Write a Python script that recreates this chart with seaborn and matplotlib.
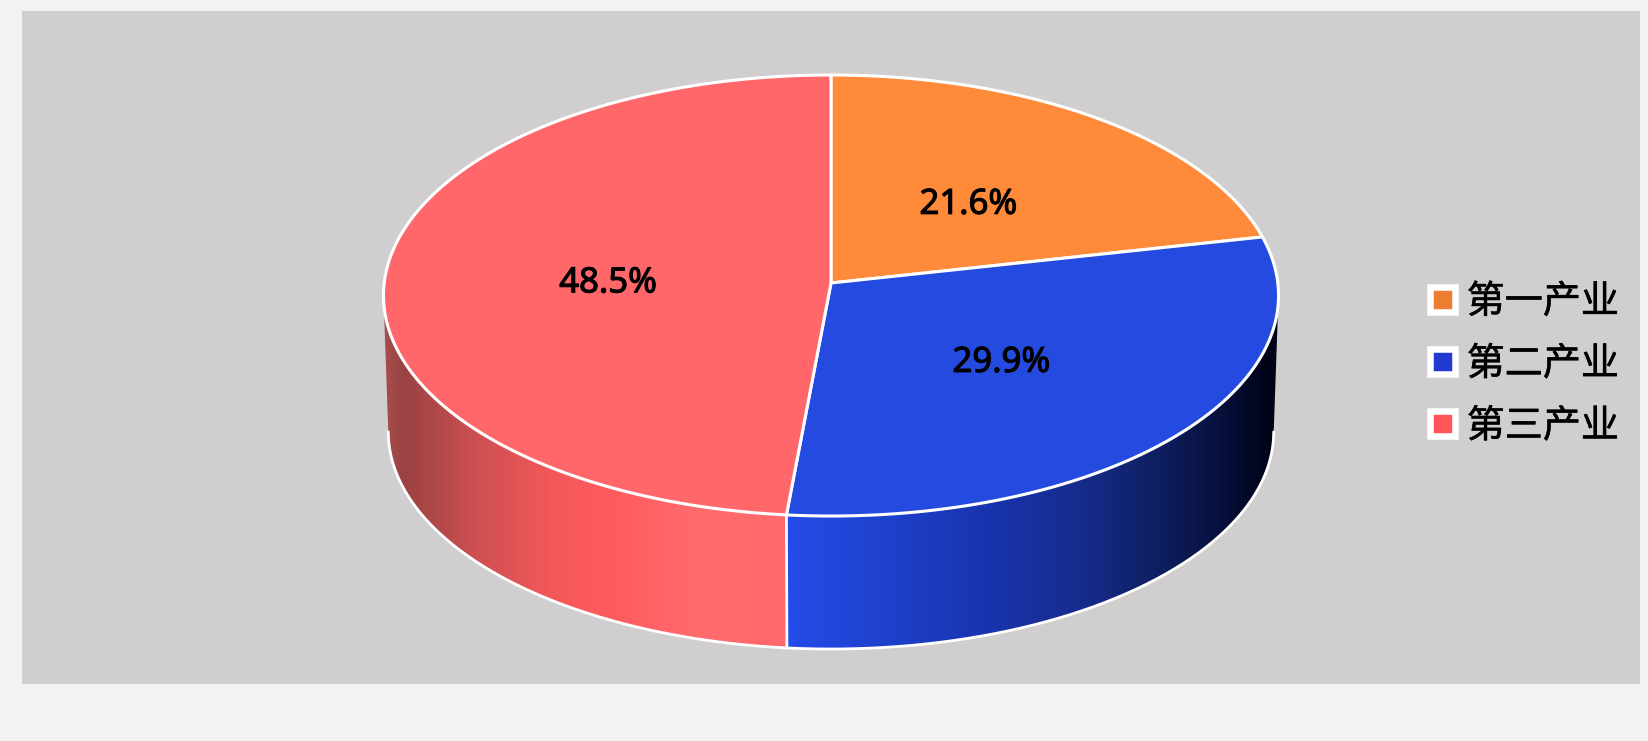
#!/usr/bin/env python3
# -*- coding: utf-8 -*-
"""Perspective 3D pie of industry shares, drawn on a seaborn themed axes."""

import numpy as np
import matplotlib
matplotlib.use('Agg')
import matplotlib.pyplot as plt
import matplotlib.patheffects as pe
import seaborn as sns
from matplotlib.colors import LinearSegmentedColormap
from matplotlib.patches import Patch, Polygon

categories = ['第一产业', '第二产业', '第三产业']
shares = [21.6, 29.9, 48.5]
pie_colors = ['#ff8a3a', '#244ae0', '#ff676a']
legend_colors = ['#ed7d31', '#233ad2', '#ff555a']

# side shading, left to right across the width of each slice
red_side = [(0, '#a84e4e'), (0.05, '#9b4242'), (0.23, '#cd5052'), (0.43, '#f6585a'),
            (0.58, '#ff5c5e'), (0.78, '#ff6b6e'), (1, '#ff696c')]
blue_side = [(0, '#254cea'), (0.19, '#1e42cd'), (0.40, '#1934af'), (0.60, '#162c8c'),
             (0.74, '#0f2064'), (0.87, '#081241'), (0.975, '#000319'), (1, '#000214')]

BG_FIG = '#f2f2f2'
BG_PANEL = '#d0cece'

# pie geometry, in pixels of the panel
CX = 831
TOP_CY, BOT_CY = 283, 419.5
TOP_A, TOP_B = 446.8, 219.8
BOT_A, BOT_B = 442, 216.5
PERSP = 0.0567


def project(t, r, cy, a, b):
    # clockwise angle from twelve o'clock, circle seen in perspective
    u = r * np.sin(t)
    v = r * np.cos(t)
    w = 1 + PERSP * v
    return CX + a * u / w, cy - b * v / w


def side_face(ax, t0, t1, stops):
    t = np.linspace(t0, t1, 200)
    xt, yt = project(t, 1, TOP_CY, TOP_A, TOP_B)
    xb, yb = project(t[::-1], 1, BOT_CY, BOT_A, BOT_B)
    poly = Polygon(np.column_stack([np.r_[xt, xb], np.r_[yt, yb]]),
                   closed=True, fc='none', ec='none', transform=ax.transData)
    ax.add_patch(poly)
    cmap = LinearSegmentedColormap.from_list('side', stops)
    xs = np.r_[xt, xb]
    im = ax.imshow(np.linspace(0, 1, 512).reshape(1, -1), cmap=cmap, aspect='auto',
                   extent=(xs.min(), xs.max(), yb.max(), yt.min()), zorder=1)
    im.set_clip_path(poly)


sns.set_theme(style='white')
plt.rcParams['font.family'] = ['Noto Sans CJK SC', 'DejaVu Sans']

fig = plt.figure(figsize=(16.49, 7.41), dpi=100, facecolor=BG_FIG)
ax = fig.add_axes([22 / 1649, 1 - 684 / 741, (1640 - 22) / 1649, (684 - 11) / 741])
ax.set_facecolor(BG_PANEL)

edges = np.r_[0, np.cumsum(shares)] / sum(shares) * 2 * np.pi
seam = edges[2]
front = np.arccos(-PERSP)

# sides first, the top face covers their upper edge
side_face(ax, front, seam, blue_side)
side_face(ax, seam, 2 * np.pi - front, red_side)

# white rim along the bottom and the seam between the two sides
t = np.linspace(front, 2 * np.pi - front, 300)
xb, yb = project(t, 1, BOT_CY, BOT_A, BOT_B)
ax.plot(xb, yb, color='white', lw=2, zorder=2)
xs, ys = project(seam, 1, TOP_CY, TOP_A, TOP_B)
xe, ye = project(seam, 1, BOT_CY, BOT_A, BOT_B)
ax.plot([xs, xe], [ys, ye], color='white', lw=2, zorder=2)

# top face
for i, color in enumerate(pie_colors):
    t = np.linspace(edges[i], edges[i + 1], 200)
    x, y = project(t, 1, TOP_CY, TOP_A, TOP_B)
    ax.fill(np.r_[CX, x], np.r_[TOP_CY, y], fc=color, ec='white', lw=2.2,
            joinstyle='round', zorder=3)
    mid = (edges[i] + edges[i + 1]) / 2
    lx, ly = project(mid, 0.5, TOP_CY, TOP_A, TOP_B)
    ax.text(lx, ly + 5.5, f'{shares[i]:.1f}%', ha='center', va='center', color='black',
            fontsize=25, family='Noto Sans', zorder=4,
            path_effects=[pe.withStroke(linewidth=0.8, foreground='black')])

ax.set_xlim(22, 1640)
ax.set_ylim(684, 11)
ax.set_xticks([])
ax.set_yticks([])
sns.despine(ax=ax, left=True, bottom=True)

handles = [Patch(facecolor=c, edgecolor='white', linewidth=4.7) for c in legend_colors]
leg = ax.legend(handles, categories, loc='center left', bbox_to_anchor=(1430, 364.5),
                bbox_transform=ax.transData, frameon=False, fontsize=27.4, borderpad=0,
                borderaxespad=0, handlelength=0.645, handleheight=0.645, handletextpad=0.32,
                labelspacing=0.61, labelcolor='black')
for txt in leg.get_texts():
    txt.set_path_effects([pe.withStroke(linewidth=0.4, foreground='black')])

fig.savefig('out.png', dpi=100, facecolor=BG_FIG)
plt.close(fig)
